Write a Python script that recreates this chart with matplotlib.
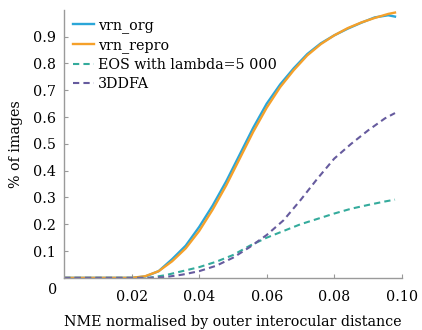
import numpy as np
import matplotlib
matplotlib.use("Agg")
import matplotlib.pyplot as plt

plt.rcParams['font.family'] = ['DejaVu Serif']

# NME thresholds and cumulative fraction of images
x_vrn = [0, 0.02, 0.024, 0.028, 0.032, 0.036, 0.040, 0.044, 0.048, 0.052, 0.056,
         0.060, 0.064, 0.068, 0.072, 0.076, 0.080, 0.084, 0.088, 0.092, 0.096, 0.098]
vrn_org = [0, 0, 0.005, 0.025, 0.07, 0.12, 0.19, 0.27, 0.36, 0.46, 0.56,
           0.65, 0.722, 0.782, 0.835, 0.875, 0.905, 0.93, 0.952, 0.972, 0.98, 0.975]
vrn_repro = [0, 0, 0.006, 0.025, 0.062, 0.11, 0.175, 0.255, 0.345, 0.445, 0.545,
             0.635, 0.712, 0.775, 0.83, 0.872, 0.905, 0.932, 0.953, 0.97, 0.985, 0.99]

x_other = [0, 0.025, 0.03, 0.035, 0.04, 0.045, 0.05, 0.055, 0.06, 0.065, 0.07,
           0.075, 0.08, 0.085, 0.09, 0.095, 0.098]
eos = [0, 0, 0.01, 0.025, 0.04, 0.06, 0.085, 0.12, 0.15, 0.175, 0.2,
       0.22, 0.24, 0.258, 0.272, 0.285, 0.292]
ddfa = [0, 0, 0.003, 0.012, 0.025, 0.045, 0.075, 0.115, 0.16, 0.215, 0.29,
        0.37, 0.445, 0.5, 0.55, 0.595, 0.615]

labels = ["vrn_org", "vrn_repro", "EOS with lambda=5 000", "3DDFA"]
xticks = [0.02, 0.04, 0.06, 0.08, 0.10]
yticks = [0.1, 0.2, 0.3, 0.4, 0.5, 0.6, 0.7, 0.8, 0.9]

fs = 10.3

fig = plt.figure(figsize=(4.22, 3.30), dpi=100)
ax = fig.add_axes([0.152, 0.158, 0.800, 0.812])

ax.plot(x_vrn, vrn_org, color="#2ba6d8", lw=1.7, label=labels[0])
ax.plot(x_vrn, vrn_repro, color="#f5a02a", lw=1.7, label=labels[1])
ax.plot(x_other, eos, color="#34ab9c", lw=1.5, ls=(0, (3, 2)), label=labels[2])
ax.plot(x_other, ddfa, color="#665b9e", lw=1.5, ls=(0, (3, 2)), label=labels[3])

ax.set_xlim(0, 0.1)
ax.set_ylim(0, 1.0)
ax.set_xticks(xticks)
ax.set_xticklabels(["0.02", "0.04", "0.06", "0.08", "0.10"])
ax.set_yticks(yticks)
ax.set_yticklabels(["%.1f" % v for v in yticks])
ax.tick_params(axis="y", direction="in", length=3, color="#999999", labelsize=fs, pad=6)
ax.tick_params(axis="x", direction="in", length=3, color="#999999", labelsize=fs, pad=9)
ax.text(-0.002, -0.045, "0", ha="right", va="center", fontsize=fs,
        transform=ax.transData, clip_on=False)

for s in ["top", "right"]:
    ax.spines[s].set_visible(False)
for s in ["left", "bottom"]:
    ax.spines[s].set_color("#9a9a9a")
    ax.spines[s].set_linewidth(1.0)

ax.set_ylabel("% of images", fontsize=fs, labelpad=7)
ax.set_xlabel("NME normalised by outer interocular distance", fontsize=fs, labelpad=8)

ax.legend(loc="upper left", frameon=False, fontsize=fs, handlelength=1.5,
          handletextpad=0.25, labelspacing=0.35, borderaxespad=0.2,
          bbox_to_anchor=(0.0, 1.0))

fig.savefig("out.png", dpi=100)
